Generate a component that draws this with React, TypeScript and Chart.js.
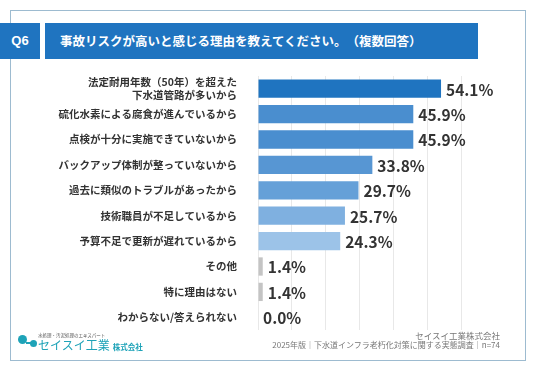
import React, { useEffect, useRef } from "react";
import { Chart, registerables } from "chart.js";

Chart.register(...registerables);

const titleText = "事故リスクが高いと感じる理由を教えてください。（複数回答）";
const questionNo = "Q6";
const categories: (string | string[])[] = [
  ["法定耐用年数（50年）を超えた", "下水道管路が多いから"],
  "硫化水素による腐食が進んでいるから",
  "点検が十分に実施できていないから",
  "バックアップ体制が整っていないから",
  "過去に類似のトラブルがあったから",
  "技術職員が不足しているから",
  "予算不足で更新が遅れているから",
  "その他",
  "特に理由はない",
  "わからない/答えられない",
];
const values = [54.1, 45.9, 45.9, 33.8, 29.7, 25.7, 24.3, 1.4, 1.4, 0.0];
const barColors = [
  "#1f74c0",
  "#4a8ecf",
  "#4a8ecf",
  "#5796d3",
  "#65a0d8",
  "#7fb0e0",
  "#9cc3e8",
  "#c4c4c4",
  "#c4c4c4",
  "#c4c4c4",
];
const footerCompany = "セイスイ工業株式会社";
const footerSource = "2025年版｜下水道インフラ老朽化対策に関する実態調査｜n=74";

const FONT = "'Noto Sans CJK JP', 'Noto Sans', sans-serif";

const valueLabelPlugin = {
  id: "valueLabels",
  afterDatasetsDraw(chart: any) {
    const ctx = chart.ctx;
    const meta = chart.getDatasetMeta(0);
    ctx.save();
    ctx.font = `bold 15.5px ${FONT}`;
    ctx.fillStyle = "#333333";
    ctx.textAlign = "left";
    ctx.textBaseline = "middle";
    meta.data.forEach((bar: any, i: number) => {
      const v = values[i];
      ctx.fillText(v.toFixed(1) + "%", bar.x + 5, bar.y + 1);
    });
    ctx.restore();
  },
};

export default function App() {
  const canvasRef = useRef<HTMLCanvasElement>(null);

  useEffect(() => {
    document.body.style.margin = "0";
    const chart = new Chart(canvasRef.current!, {
      type: "bar",
      data: {
        labels: categories,
        datasets: [
          {
            data: values,
            backgroundColor: barColors,
            borderWidth: 0,
            barPercentage: 0.72,
            categoryPercentage: 1,
          },
        ],
      },
      options: {
        indexAxis: "y",
        animation: false,
        responsive: false,
        layout: { padding: { top: 76, bottom: 41, right: 75, left: 0 } },
        plugins: { legend: { display: false }, tooltip: { enabled: false } },
        scales: {
          x: {
            min: 0,
            max: 60,
            ticks: { display: false, stepSize: 10 },
            grid: { color: "#e8e8e8", drawTicks: false },
            border: { display: false },
          },
          y: {
            grid: { display: false },
            border: { display: false },
            afterFit: (scale: any) => {
              scale.width = 258;
            },
            ticks: {
              autoSkip: false,
              padding: 13,
              color: "#333333",
              font: { family: FONT, size: 10.5, weight: "bold", lineHeight: 1.2 },
            },
          },
        },
      },
      plugins: [valueLabelPlugin],
    });
    return () => chart.destroy();
  }, []);

  return (
    <div
      style={{
        position: "fixed",
        left: 0,
        top: 0,
        width: 536,
        height: 371,
        background: "#ffffff",
        overflow: "hidden",
        fontFamily: FONT,
      }}
    >
      <div
        style={{
          position: "absolute",
          left: 10,
          top: 10,
          width: 516,
          height: 351,
          border: "1px solid #9dbbd0",
          boxSizing: "border-box",
        }}
      />
      <div
        style={{
          position: "absolute",
          left: 0,
          top: 23,
          width: 40,
          height: 36,
          background: "#1f74c0",
          color: "#fff",
          fontWeight: "bold",
          fontSize: 13,
          lineHeight: "36px",
          textAlign: "center",
          fontFamily: "'Liberation Sans', Arial, sans-serif",
        }}
      >
        {questionNo}
      </div>
      <div
        style={{
          position: "absolute",
          left: 45,
          top: 23,
          width: 433,
          height: 36,
          background: "#1f74c0",
          color: "#fff",
          fontWeight: "bold",
          fontSize: 12.5,
          lineHeight: "36px",
          paddingLeft: 15,
          boxSizing: "border-box",
          whiteSpace: "nowrap",
          ["textSpacingTrim" as any]: "space-all",
        }}
      >
        {titleText}
      </div>
      <canvas
        ref={canvasRef}
        width={536}
        height={371}
        style={{ position: "absolute", left: 0, top: 0, width: 536, height: 371 }}
      />
      <div
        style={{
          position: "absolute",
          right: 36,
          top: 330,
          textAlign: "right",
          color: "#777777",
          fontSize: 8,
          lineHeight: "10px",
          whiteSpace: "nowrap",
          ["textSpacingTrim" as any]: "space-all",
        }}
      >
        <div style={{ fontSize: 8.5 }}>{footerCompany}</div>
        <div>{footerSource}</div>
      </div>
      <div style={{ position: "absolute", left: 18, top: 332, width: 110, height: 22 }}>
        <div
          style={{
            position: "absolute",
            left: 0,
            top: 3,
            width: 9,
            height: 9,
            borderRadius: "50%",
            background: "#1ea3b8",
          }}
        />
        <div
          style={{
            position: "absolute",
            left: 8,
            top: 10,
            width: 8,
            height: 2,
            background: "#1ea3b8",
          }}
        />
        <div
          style={{
            position: "absolute",
            left: 12,
            top: 8,
            width: 7,
            height: 7,
            borderRadius: "50%",
            background: "#1ea3b8",
          }}
        />
        <div
          style={{
            position: "absolute",
            left: 20,
            top: 0,
            fontSize: 4.5,
            color: "#555",
            whiteSpace: "nowrap",
            lineHeight: "6px",
          }}
        >
          水処理・汚泥処理のエキスパート
        </div>
        <div
          style={{
            position: "absolute",
            left: 20,
            top: 5,
            fontSize: 12,
            color: "#1ea3b8",
            whiteSpace: "nowrap",
            lineHeight: "16px",
          }}
        >
          セイスイ工業
          <span style={{ fontSize: 7.5, fontWeight: "bold", marginLeft: 3 }}>株式会社</span>
        </div>
      </div>
    </div>
  );
}
